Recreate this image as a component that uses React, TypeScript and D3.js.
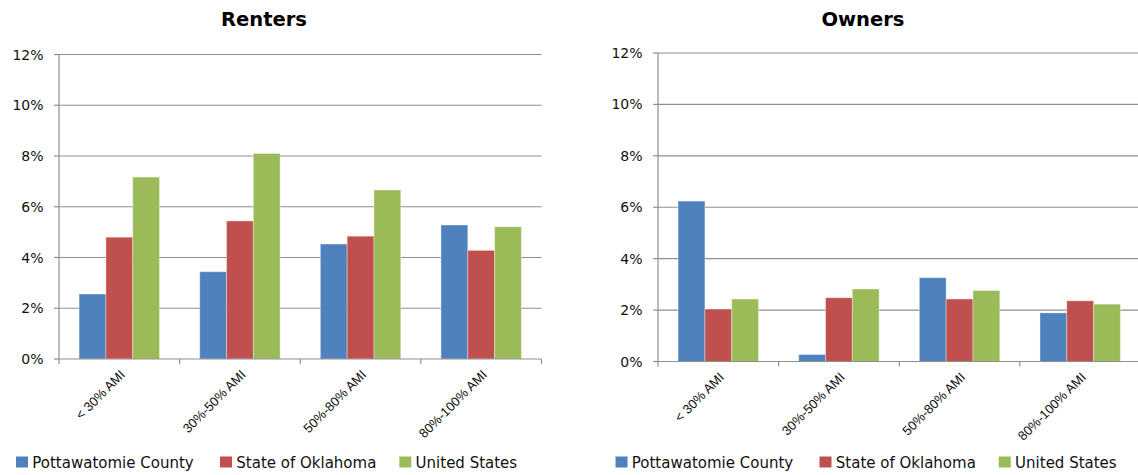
import React from "react";
import * as d3 from "d3";

// Income bands on the category axis
const categories = ["< 30% AMI", "30%-50% AMI", "50%-80% AMI", "80%-100% AMI"];

// Series names and fills
const seriesNames = ["Pottawatomie County", "State of Oklahoma", "United States"];
const seriesColors = ["#4F81BD", "#C0504D", "#9BBB59"];

// Renters: share of households, per series, per income band
const rentersCounty = [0.0256, 0.0344, 0.0453, 0.0528];
const rentersState = [0.048, 0.0544, 0.0484, 0.0428];
const rentersUS = [0.0717, 0.081, 0.0666, 0.0521];

// Owners: share of households, per series, per income band
const ownersCounty = [0.0624, 0.0027, 0.0326, 0.0189];
const ownersState = [0.0204, 0.0248, 0.0243, 0.0236];
const ownersUS = [0.0243, 0.0282, 0.0276, 0.0223];

// Value-axis ticks
const yTicks = [0, 0.02, 0.04, 0.06, 0.08, 0.1, 0.12];

const GRID = "#8f8f8f";

type PanelProps = {
  title: string;
  titleX: number;
  series: number[][];
  x0: number;
  x1: number;
  yBottom: number;
  yTop: number;
  legendX: number;
};

function Panel({ title, titleX, series, x0, x1, yBottom, yTop, legendX }: PanelProps) {
  const x = d3.scaleBand<string>().domain(categories).range([x0, x1]).padding(0);
  const W = x.bandwidth();
  const barW = W / 4.5; // 150% gap width
  const inner = d3
    .scaleBand<string>()
    .domain(seriesNames)
    .range([barW * 0.75, W - barW * 0.75])
    .padding(0);
  const y = d3.scaleLinear().domain([0, 0.12]).range([yBottom, yTop]);
  const fmt = d3.format(".0%");

  const boundaries = categories.map((c) => x(c) as number).concat([x1]);

  return (
    <g>
      <text
        x={titleX}
        y={26}
        textAnchor="middle"
        fontFamily="DejaVu Sans, sans-serif"
        fontWeight="bold"
        fontSize={19.5}
        fill="#000"
      >
        {title}
      </text>

      {/* gridlines and value labels */}
      {yTicks.map((t) => (
        <g key={t}>
          {t > 0 && (
            <line x1={x0} x2={x1} y1={y(t)} y2={y(t)} stroke={GRID} strokeWidth={1.2} />
          )}
          <line x1={x0 - 5} x2={x0} y1={y(t)} y2={y(t)} stroke={GRID} strokeWidth={1.2} />
          <text
            x={x0 - 15.5}
            y={y(t)}
            dy="0.36em"
            textAnchor="end"
            fontFamily="DejaVu Sans, sans-serif"
            fontSize={14}
            fill="#111"
          >
            {fmt(t)}
          </text>
        </g>
      ))}

      {/* bars */}
      {categories.map((c, ci) =>
        seriesNames.map((s, si) => {
          const v = series[si][ci];
          const bx = (x(c) as number) + (inner(s) as number);
          return (
            <rect
              key={c + s}
              x={bx}
              y={y(v)}
              width={inner.bandwidth()}
              height={yBottom - y(v)}
              fill={seriesColors[si]}
              stroke="#ffffff"
              strokeOpacity={0.35}
              strokeWidth={1}
            />
          );
        })
      )}

      {/* axes */}
      <line x1={x0} x2={x0} y1={yTop} y2={yBottom} stroke={GRID} strokeWidth={1.2} />
      <line x1={x0} x2={x1} y1={yBottom} y2={yBottom} stroke={GRID} strokeWidth={1.2} />
      {boundaries.map((bx, i) => (
        <line key={i} x1={bx} x2={bx} y1={yBottom} y2={yBottom + 5} stroke={GRID} strokeWidth={1.2} />
      ))}

      {/* category labels */}
      {categories.map((c) => {
        const cx = (x(c) as number) + W / 2;
        return (
          <text
            key={c}
            transform={`translate(${cx + 6.5},${yBottom + 16.5}) rotate(-45)`}
            textAnchor="end"
            fontFamily="Liberation Sans, sans-serif"
            fontSize={13}
            fill="#111"
          >
            {c}
          </text>
        );
      })}

      {/* legend */}
      {seriesNames.map((s, si) => {
        const offs = [0, 204, 383.3];
        const lx = legendX + offs[si];
        return (
          <g key={s}>
            <rect x={lx} y={456.5} width={12} height={11} fill={seriesColors[si]} />
            <text
              x={lx + 16.3}
              y={468}
              fontFamily="DejaVu Sans, sans-serif"
              fontSize={15}
              fill="#111"
            >
              {s}
            </text>
          </g>
        );
      })}
    </g>
  );
}

export default function App() {
  return (
    <svg
      width={1138}
      height={475}
      style={{ position: "absolute", left: 0, top: 0, background: "#fff" }}
    >
      <rect width={1138} height={475} fill="#fff" />
      <Panel
        title="Renters"
        titleX={264}
        series={[rentersCounty, rentersState, rentersUS]}
        x0={59}
        x1={541.5}
        yBottom={359}
        yTop={54.5}
        legendX={16}
      />
      <Panel
        title="Owners"
        titleX={863}
        series={[ownersCounty, ownersState, ownersUS]}
        x0={658}
        x1={1140.5}
        yBottom={361.5}
        yTop={53}
        legendX={615.5}
      />
    </svg>
  );
}
